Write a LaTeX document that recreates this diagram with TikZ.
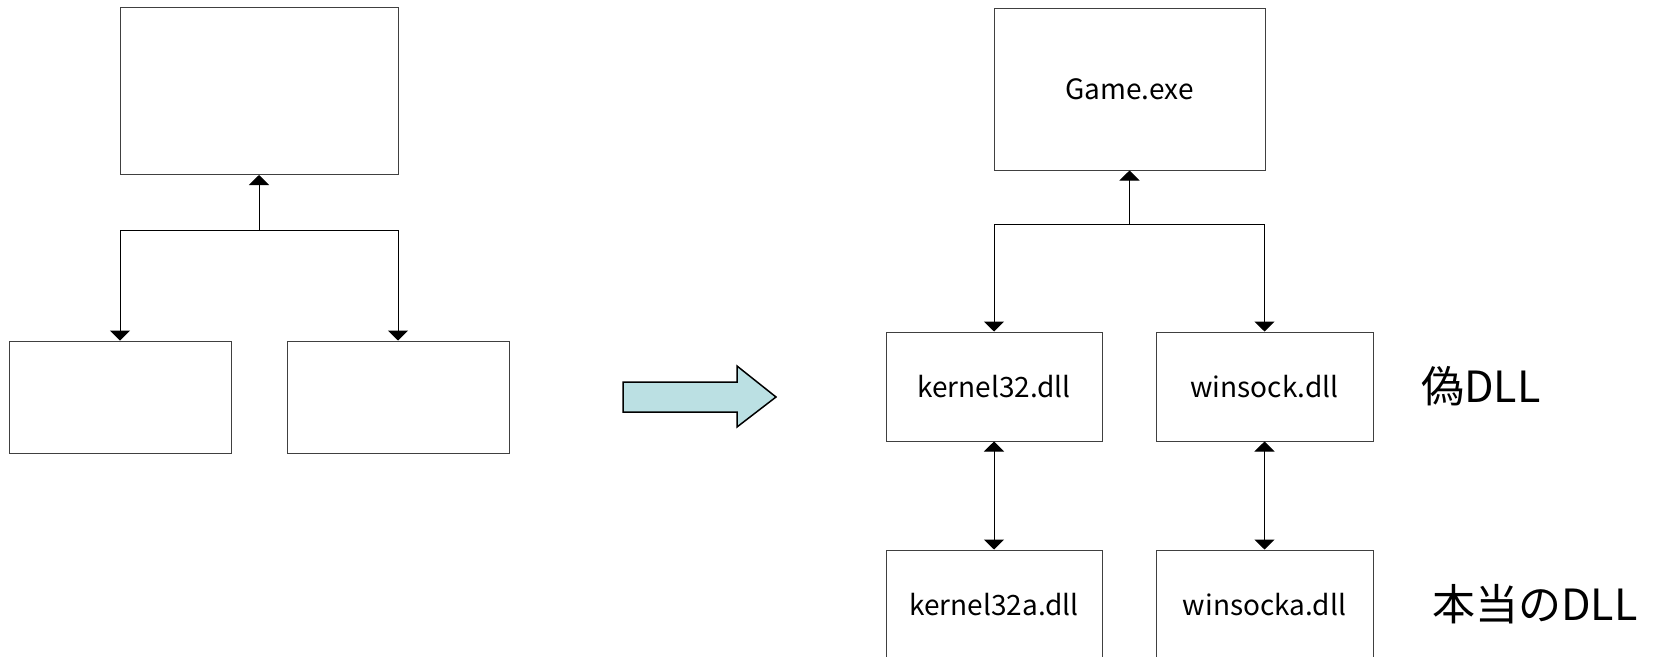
\documentclass[tikz,border=0pt]{standalone}
\usepackage{fontspec}
\setmainfont{Noto Sans CJK JP}
\usetikzlibrary{arrows.meta}
\definecolor{arrowfill}{RGB}{187,224,227}
\tikzset{
  box/.style={draw=black!75,line width=1pt,rectangle,inner sep=0pt,font=\fontsize{28}{32}\selectfont},
  conn/.style={line width=1pt,-{Triangle[width=20pt,length=10pt]}},
  twoway/.style={line width=1pt,{Triangle[width=20pt,length=10pt]}-{Triangle[width=20pt,length=10pt]}},
  tag/.style={font=\fontsize{43}{48}\selectfont}
}
\begin{document}
\begin{tikzpicture}[x=1pt,y=-1pt]
    \useasboundingbox (0,0) rectangle (1662,656);
    % empty tree on the left
    \node[box,minimum width=278pt,minimum height=167pt] (ltop) at (259,91) {};
    \node[box,minimum width=222pt,minimum height=112pt] (lbl) at (120,397) {};
    \node[box,minimum width=222pt,minimum height=112pt] (lbr) at (398,397) {};
    \coordinate (lj) at (259,230);
    \draw[conn] (lj) -- (ltop.south);
    \draw[conn] (lj) -| (lbl.north);
    \draw[conn] (lj) -| (lbr.north);
    % block arrow
    \draw[fill=arrowfill,line width=1.5pt] (623,382) -- (737,382) -- (737,366) -- (776,397)
        -- (737,427) -- (737,412) -- (623,412) -- cycle;
    % tree with the proxy dlls
    \node[box,minimum width=271pt,minimum height=162pt] (game) at (1129.5,89) {Game.exe};
    \node[box,minimum width=216pt,minimum height=109pt] (k32) at (994,386.5) {kernel32.dll};
    \node[box,minimum width=217pt,minimum height=109pt] (ws) at (1264.5,386.5) {winsock.dll};
    \node[box,minimum width=216pt,minimum height=109pt] (k32a) at (994,604.5) {kernel32a.dll};
    \node[box,minimum width=217pt,minimum height=109pt] (wsa) at (1264.5,604.5) {winsocka.dll};
    \coordinate (rj) at (1129.5,224);
    \draw[conn] (rj) -- (game.south);
    \draw[conn] (rj) -| (k32.north);
    \draw[conn] (rj) -| (ws.north);
    \draw[twoway] (k32.south) -- (k32a.north);
    \draw[twoway] (ws.south) -- (wsa.north);
    \node[tag] (fake) at (1481,386) {偽DLL};
    \node[tag] (real) at (1535,604) {本当のDLL};
\end{tikzpicture}
\end{document}
